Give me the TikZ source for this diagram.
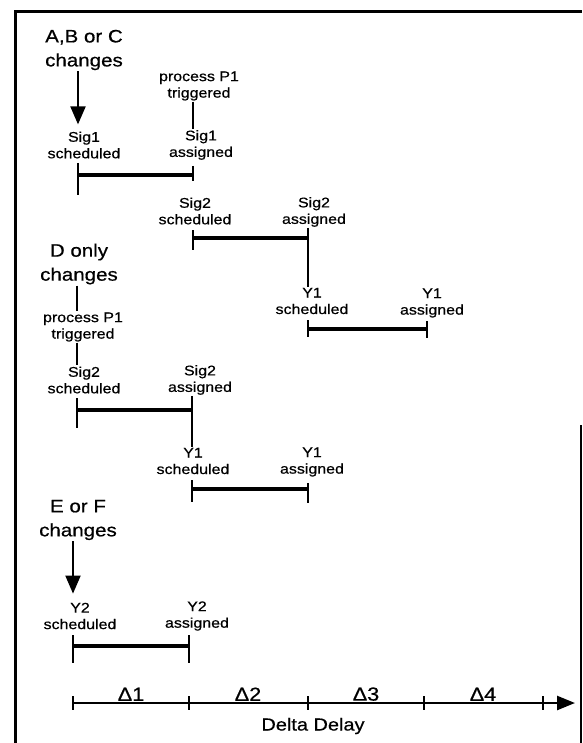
\documentclass[tikz,border=0pt]{standalone}
\usepackage{fontspec}
\setmainfont{Liberation Sans}[FakeStretch=1.14, FakeBold=0.6]
\usepackage{tikz}
\usetikzlibrary{arrows.meta}

\begin{document}
\begin{tikzpicture}[x=1pt, y=-1pt,
  every node/.style={align=center, inner sep=1pt},
  cause/.style={font=\fontsize{18}{24}\selectfont},
  evt/.style={font=\fontsize{14}{16.5}\selectfont},
  delta/.style={font=\fontsize{19}{22}\selectfont, anchor=south},
  bar/.style={line width=4.5pt},
  tick/.style={line width=2.5pt},
  link/.style={line width=2pt},
  bigarrow/.style={line width=2pt, -{Triangle[length=18pt, width=15pt]}}]

  \useasboundingbox (0,0) rectangle (582,743);

  % Frame
  \draw[line width=3pt] (15,743) -- (15,12) -- (582,12);
  \draw[line width=1.5pt] (581,425) -- (581,743);

  % A,B or C changes
  \node[cause] (abc) at (84,50) {A,B or C\\changes};
  \node[evt] (sig1s) at (84,145) {Sig1\\scheduled};
  \node[evt] (p1top) at (199,86) {process P1\\triggered};
  \node[evt] (sig1a) at (201,145) {Sig1\\assigned};
  \node[evt] (sig2s) at (195,211) {Sig2\\scheduled};
  \node[evt] (sig2a) at (314,212) {Sig2\\assigned};
  \node[evt] (y1s) at (312,301) {Y1\\scheduled};
  \node[evt] (y1a) at (432,303) {Y1\\assigned};

  \coordinate (t1) at (78,175);
  \coordinate (t2) at (193,175);
  \coordinate (t3) at (193,238);
  \coordinate (t4) at (308,238);
  \coordinate (t5) at (308,329);
  \coordinate (t6) at (427,329);

  \draw[bigarrow, shorten >=6pt] (abc.south -| t1) -- (sig1s.north -| t1);
  \draw[link] (p1top.south -| t2) -- (sig1a.north -| t2);
  \draw[bar] (t1) -- (t2);
  \draw[tick] (t1) ++(0,-12) -- ++(0,32);
  \draw[tick] (t2) ++(0,-9) -- ++(0,15);
  \draw[bar] (t3) -- (t4);
  \draw[tick] (t3) ++(0,-8) -- ++(0,20);
  \draw[link] (sig2a.south -| t4) -- (y1s.north -| t4);
  \draw[bar] (t5) -- (t6);
  \draw[tick] (t5) ++(0,-9) -- ++(0,17);
  \draw[tick] (t6) ++(0,-8) -- ++(0,17);

  % D only changes
  \node[cause] (donly) at (79,264) {D only\\changes};
  \node[evt] (p1mid) at (83,327) {process P1\\triggered};
  \node[evt] (sig2sb) at (84,380) {Sig2\\scheduled};
  \node[evt] (sig2ab) at (200,380) {Sig2\\assigned};
  \node[evt] (y1sb) at (193,461) {Y1\\scheduled};
  \node[evt] (y1ab) at (312,462) {Y1\\assigned};

  \coordinate (u1) at (77,410);
  \coordinate (u2) at (192,410);
  \coordinate (u3) at (192,489);
  \coordinate (u4) at (308,489);

  \draw[link] (donly.south -| u1) -- (p1mid.north -| u1);
  \draw[link] (p1mid.south -| u1) -- (sig2sb.north -| u1);
  \draw[bar] (u1) -- (u2);
  \draw[tick] (u1) ++(0,-12) -- ++(0,30);
  \draw[link] (sig2ab.south -| u2) -- (y1sb.north -| u2);
  \draw[bar] (u3) -- (u4);
  \draw[tick] (u3) ++(0,-9) -- ++(0,22);
  \draw[tick] (u4) ++(0,-6) -- ++(0,20);

  % E or F changes
  \node[cause] (eorf) at (78,520) {E or F\\changes};
  \node[evt] (y2s) at (80,616) {Y2\\scheduled};
  \node[evt] (y2a) at (197,616) {Y2\\assigned};

  \coordinate (v1) at (73,646);
  \coordinate (v2) at (189,646);

  \draw[bigarrow, shorten >=8pt] (eorf.south -| v1) -- (y2s.north -| v1);
  \draw[bar] (v1) -- (v2);
  \draw[tick] (v1) ++(0,-11) -- ++(0,28);
  \draw[tick] (v2) ++(0,-11) -- ++(0,28);

  % Delta delay axis
  \coordinate (a0) at (73,703);
  \coordinate (a1) at (189,703);
  \coordinate (a2) at (308,703);
  \coordinate (a3) at (424,703);
  \coordinate (a4) at (543,703);
  \coordinate (aend) at (575,703);
  \draw[line width=2.5pt, -{Triangle[length=18pt, width=14pt]}] (a0) -- (aend);
  \foreach \i in {0,...,4}
    \draw[tick] (a\i) ++(0,-7) -- ++(0,14);

  \node[delta] (d1) at (131,702) {Δ1};
  \node[delta] (d2) at (248,702) {Δ2};
  \node[delta] (d3) at (366,702) {Δ3};
  \node[delta] (d4) at (483,702) {Δ4};
  \node[font=\fontsize{17.5}{20}\selectfont] (dd) at (313,726) {Delta Delay};
\end{tikzpicture}
\end{document}
